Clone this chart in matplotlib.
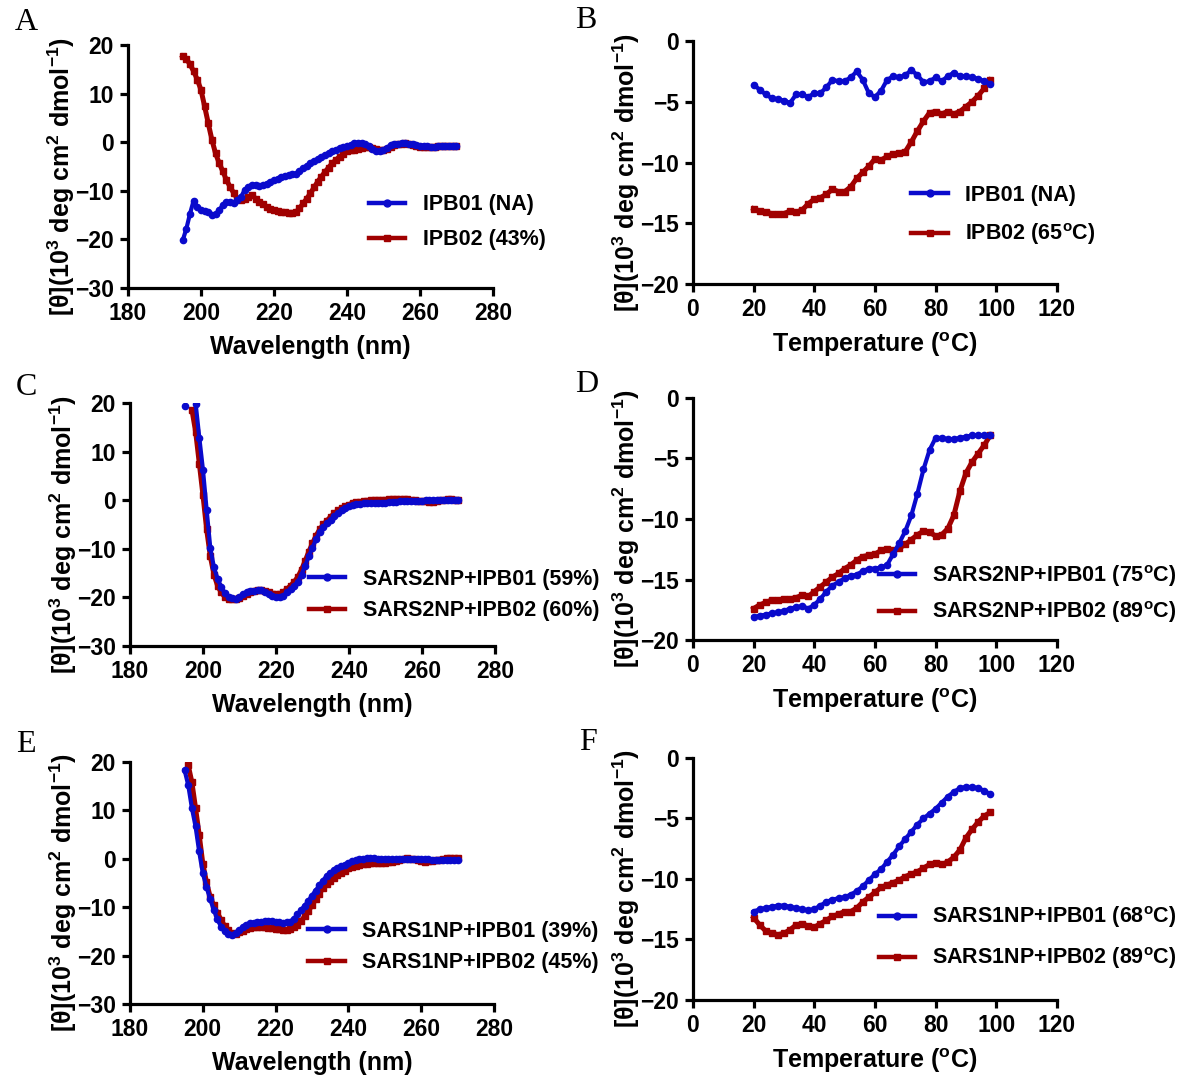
import numpy as np
import matplotlib
matplotlib.use('Agg')
import matplotlib.pyplot as plt

# CD spectra / thermal melts
wl = np.arange(195, 271)          # wavelength, nm (1 nm steps)
temp = np.arange(20, 100, 2)      # temperature, C (2 C steps)

# panel A - peptides alone
a_ipb01 = [-20.2, -17.8, -14.7, -12.0, -13.3, -14.0, -14.2, -14.3, -15.0, -14.7,
           -14.0, -12.9, -12.3, -12.3, -12.5, -11.9, -11.2, -9.8, -9.2, -8.7,
           -8.8, -9.0, -8.8, -8.5, -8.2, -7.8, -7.5, -7.1, -6.9, -6.7,
           -6.6, -6.5, -6.0, -5.4, -4.8, -4.2, -3.8, -3.5, -3.0, -2.6,
           -2.2, -1.9, -1.5, -1.2, -1.0, -0.8, -0.5, -0.2, -0.1, -0.1,
           -0.4, -0.8, -1.4, -1.9, -1.8, -1.6, -1.1, -0.6, -0.4, -0.3,
           -0.2, -0.2, -0.3, -0.3, -0.5, -0.8, -0.8, -0.8, -0.9, -0.9,
           -0.8, -0.8, -0.8, -0.8, -0.8, -0.8]
a_ipb02 = [17.7, 17.2, 16.0, 14.6, 12.9, 10.8, 7.4, 3.9, 0.5, -2.3,
           -4.3, -6.0, -7.8, -9.2, -10.5, -11.6, -11.9, -11.6, -11.2, -10.9,
           -11.6, -12.3, -12.8, -13.3, -13.7, -14.0, -14.2, -14.3, -14.4, -14.5,
           -14.5, -14.4, -13.6, -12.6, -11.6, -10.5, -9.3, -8.1, -7.1, -6.1,
           -5.2, -4.3, -3.6, -3.0, -2.4, -1.9, -1.7, -1.6, -1.3, -1.1,
           -1.0, -1.0, -1.2, -1.4, -1.5, -1.6, -1.3, -0.9, -0.6, -0.4,
           -0.3, -0.2, -0.4, -0.6, -0.8, -0.9, -1.0, -1.0, -1.0, -0.9,
           -0.8, -0.7, -0.7, -0.7, -0.7, -0.7]

# panel B
b_ipb01 = [-3.6, -4.0, -4.4, -4.7, -4.8, -4.9, -5.1, -4.4, -4.4, -4.6,
           -4.3, -4.3, -3.8, -3.2, -3.3, -3.3, -3.0, -2.5, -3.2, -4.3,
           -4.6, -4.1, -3.2, -2.9, -3.0, -2.8, -2.4, -2.8, -3.4, -3.3,
           -3.0, -3.3, -2.9, -2.6, -2.9, -2.9, -3.0, -3.1, -3.3, -3.5]
b_ipb02 = [-13.8, -14.0, -14.1, -14.2, -14.2, -14.2, -14.0, -14.1, -13.9, -13.4,
           -13.0, -12.9, -12.6, -12.2, -12.4, -12.4, -12.0, -11.3, -10.8, -10.3,
           -9.7, -9.8, -9.5, -9.3, -9.2, -9.1, -8.3, -7.4, -6.6, -5.9,
           -5.8, -6.0, -5.8, -6.0, -5.8, -5.4, -5.0, -4.5, -3.9, -3.2]

# panel C - SARS2 NP complexes
c_ipb01 = [19.3, np.nan, np.nan, 19.8, 12.8, 6.2, -2.0, -9.8, -13.8, -16.2,
           -17.9, -19.2, -19.9, -20.2, -20.3, -19.9, -19.4, -19.0, -18.7, -18.6,
           -18.5, -18.5, -18.8, -19.3, -19.8, -20.0, -20.0, -19.7, -19.0, -18.3,
           -17.6, -16.8, -15.3, -13.5, -11.5, -9.8, -8.0, -6.6, -5.6, -4.8,
           -4.0, -3.3, -2.6, -2.1, -1.7, -1.3, -0.9, -0.7, -0.7, -0.6,
           -0.6, -0.6, -0.5, -0.5, -0.5, -0.5, -0.4, -0.3, -0.3, -0.2,
           -0.2, -0.2, -0.1, -0.1, -0.1, -0.1, 0.0, 0.0, 0.0, 0.0,
           0.0, 0.0, 0.0, 0.0, 0.0, 0.0]
c_ipb02 = [np.nan, np.nan, 18.5, 14.0, 7.5, 1.0, -6.0, -11.5, -15.3, -17.6,
           -19.0, -19.9, -20.3, -20.4, -20.4, -20.1, -19.7, -19.3, -18.9, -18.6,
           -18.4, -18.4, -18.6, -19.0, -19.3, -19.4, -19.3, -18.9, -18.3, -17.6,
           -16.8, -15.8, -14.3, -12.5, -10.6, -8.9, -7.3, -6.0, -5.0, -4.2,
           -3.4, -2.7, -2.1, -1.6, -1.2, -0.9, -0.6, -0.4, -0.3, -0.2,
           -0.1, 0.0, 0.0, 0.1, 0.1, 0.1, 0.2, 0.3, 0.3, 0.3,
           0.2, 0.2, 0.1, 0.0, -0.1, -0.1, -0.2, -0.3, -0.3, -0.2,
           0.0, 0.1, 0.2, 0.2, 0.1, 0.1]

# panel D
d_ipb01 = [-18.1, -18.0, -17.9, -17.8, -17.7, -17.6, -17.4, -17.3, -17.2, -17.4,
           -17.1, -16.6, -16.0, -15.5, -15.2, -14.9, -14.7, -14.6, -14.3, -14.1,
           -14.1, -14.0, -13.8, -12.9, -12.0, -11.0, -9.7, -7.9, -5.9, -4.3,
           -3.3, -3.3, -3.4, -3.4, -3.3, -3.2, -3.1, -3.1, -3.1, -3.1]
d_ipb02 = [-17.4, -17.1, -16.9, -16.7, -16.7, -16.6, -16.6, -16.5, -16.3, -16.4,
           -16.0, -15.6, -15.2, -14.8, -14.5, -14.1, -13.8, -13.4, -13.1, -13.0,
           -12.9, -12.6, -12.5, -12.6, -12.4, -12.1, -11.7, -11.3, -11.0, -11.1,
           -11.4, -11.3, -10.8, -9.7, -7.7, -6.2, -5.3, -4.6, -3.9, -3.1]

# panel E - SARS1 NP complexes
e_ipb01 = [18.3, 15.2, 10.5, 6.7, 1.5, -3.0, -5.8, -8.3, -10.5, -12.5,
           -14.0, -15.0, -15.5, -15.7, -15.4, -14.8, -14.1, -13.6, -13.3, -13.2,
           -13.1, -13.0, -12.9, -12.8, -12.9, -13.0, -13.1, -13.2, -13.1, -13.0,
           -12.4, -11.5, -10.6, -9.7, -8.7, -7.6, -6.6, -5.5, -4.5, -3.6,
           -2.9, -2.4, -2.0, -1.6, -1.2, -0.9, -0.5, -0.3, -0.1, 0.0,
           0.1, 0.1, 0.1, 0.0, 0.0, 0.0, -0.1, -0.1, -0.1, -0.1,
           -0.1, -0.1, -0.1, -0.1, -0.1, -0.1, -0.1, -0.1, -0.2, -0.2,
           -0.2, -0.2, -0.2, -0.3, -0.3, -0.3]
e_ipb02 = [np.nan, 19.3, 15.8, 10.5, 5.0, -1.0, -4.8, -7.8, -9.6, -11.2,
           -12.6, -13.9, -14.8, -15.4, -15.5, -15.2, -14.9, -14.6, -14.3, -14.1,
           -14.0, -14.0, -14.1, -14.3, -14.4, -14.5, -14.6, -14.7, -14.7, -14.6,
           -14.2, -13.6, -12.8, -11.9, -10.8, -9.6, -8.4, -7.2, -6.1, -5.3,
           -4.6, -4.0, -3.4, -3.0, -2.5, -2.0, -1.7, -1.5, -1.3, -1.1,
           -1.0, -0.9, -0.9, -0.8, -0.8, -0.8, -0.7, -0.6, -0.4, -0.2,
           0.0, 0.1, 0.0, -0.1, -0.3, -0.5, -0.6, -0.5, -0.5, -0.3,
           -0.2, 0.0, 0.1, 0.1, 0.1, 0.1]

# panel F
f_ipb01 = [-12.7, -12.5, -12.4, -12.3, -12.2, -12.2, -12.3, -12.4, -12.5, -12.6,
           -12.5, -12.2, -11.9, -11.7, -11.6, -11.5, -11.3, -11.0, -10.6, -10.1,
           -9.6, -9.2, -8.6, -8.0, -7.3, -6.7, -6.1, -5.5, -5.0, -4.6,
           -4.2, -3.7, -3.2, -2.8, -2.5, -2.4, -2.4, -2.5, -2.7, -3.0]
f_ipb02 = [-13.2, -13.8, -14.3, -14.5, -14.6, -14.5, -14.2, -13.8, -13.7, -13.9,
           -14.0, -13.7, -13.4, -13.1, -12.9, -12.7, -12.7, -12.4, -11.9, -11.5,
           -11.1, -10.7, -10.5, -10.3, -10.1, -9.8, -9.6, -9.4, -9.1, -8.8,
           -8.7, -8.8, -8.6, -8.2, -7.6, -6.6, -5.9, -5.3, -4.8, -4.5]

labels_A = ['IPB01 (NA)', 'IPB02 (43%)']
labels_B = ['IPB01 (NA)', 'IPB02 (65$^{o}$C)']
labels_C = ['SARS2NP+IPB01 (59%)', 'SARS2NP+IPB02 (60%)']
labels_D = ['SARS2NP+IPB01 (75$^{o}$C)', 'SARS2NP+IPB02 (89$^{o}$C)']
labels_E = ['SARS1NP+IPB01 (39%)', 'SARS1NP+IPB02 (45%)']
labels_F = ['SARS1NP+IPB01 (68$^{o}$C)', 'SARS1NP+IPB02 (89$^{o}$C)']

plt.rcParams['font.family'] = ['Liberation Sans', 'DejaVu Sans']
plt.rcParams['font.weight'] = 'bold'
plt.rcParams['axes.labelweight'] = 'bold'
plt.rcParams['mathtext.default'] = 'regular'
plt.rcParams['axes.linewidth'] = 2.3

blue = '#0a0acc'
red = '#a00000'
ylab = '[θ](10$^{3}$ deg cm$^{2}$ dmol$^{-1}$)'

fig = plt.figure(figsize=(11.97, 10.8), dpi=100)


def panel(rect, x, y1, y2, labels, spectrum, leg_xy, letter, letter_xy, lspace):
    ax = fig.add_axes(rect)
    ax.plot(x, y1, color=blue, lw=3.0, marker='o', ms=4.5, label=labels[0], zorder=3)
    ax.plot(x, y2, color=red, lw=3.6, marker='s', ms=4.8, label=labels[1], zorder=2)
    if spectrum:
        ax.set_xlim(180, 280)
        ax.set_ylim(-30, 20)
        ax.set_xticks(range(180, 281, 20))
        ax.set_yticks(range(-30, 21, 10))
        ax.set_xlabel('Wavelength (nm)', fontsize=18, labelpad=7)
    else:
        ax.set_xlim(0, 120)
        ax.set_ylim(-20, 0)
        ax.set_xticks(range(0, 121, 20))
        ax.set_yticks(range(-20, 1, 5))
        ax.set_xlabel('Temperature ($^{o}$C)', fontsize=18, labelpad=7)
    ax.set_ylabel(ylab, fontsize=18)
    ax.yaxis.set_label_coords(-0.14, 0.46)
    ax.spines['top'].set_visible(False)
    ax.spines['right'].set_visible(False)
    ax.tick_params(direction='out', length=6, width=2.3, labelsize=16.5, pad=4)
    for t in ax.get_xticklabels() + ax.get_yticklabels():
        t.set_fontweight('bold')
    leg = ax.legend(loc='center left', bbox_to_anchor=leg_xy, frameon=False,
                    fontsize=15.5, handlelength=1.7, handletextpad=0.8,
                    labelspacing=lspace, borderpad=0, borderaxespad=0)
    for lh in leg.get_lines():
        lh.set_linewidth(3.2)
        lh.set_markersize(5)
    fig.text(letter_xy[0], letter_xy[1], letter, family='Liberation Serif',
             fontweight='normal', fontsize=23, ha='center', va='center')
    return ax


panel([0.1069, 0.7333, 0.3049, 0.225], wl, a_ipb01, a_ipb02, labels_A, True,
      (0.66, 0.27), 'A', (26 / 1197, 1 - 22 / 1080), 0.65)
panel([0.5789, 0.7370, 0.3041, 0.225], temp, b_ipb01, b_ipb02, labels_B, False,
      (0.60, 0.28), 'B', (586 / 1197, 1 - 20 / 1080), 0.75)
panel([0.1086, 0.4019, 0.3049, 0.225], wl, c_ipb01, c_ipb02, labels_C, True,
      (0.49, 0.21), 'C', (26 / 1197, 1 - 387 / 1080), 0.5)
panel([0.5789, 0.4074, 0.3041, 0.2241], temp, d_ipb01, d_ipb02, labels_D, False,
      (0.51, 0.19), 'D', (587 / 1197, 1 - 385 / 1080), 0.5)
panel([0.1086, 0.0704, 0.3041, 0.2241], wl, e_ipb01, e_ipb02, labels_E, True,
      (0.49, 0.235), 'E', (26 / 1197, 1 - 745 / 1080), 0.5)
panel([0.5789, 0.0741, 0.3041, 0.2241], temp, f_ipb01, f_ipb02, labels_F, False,
      (0.51, 0.256), 'F', (588 / 1197, 1 - 743 / 1080), 0.7)

fig.savefig('out.png', dpi=100)
